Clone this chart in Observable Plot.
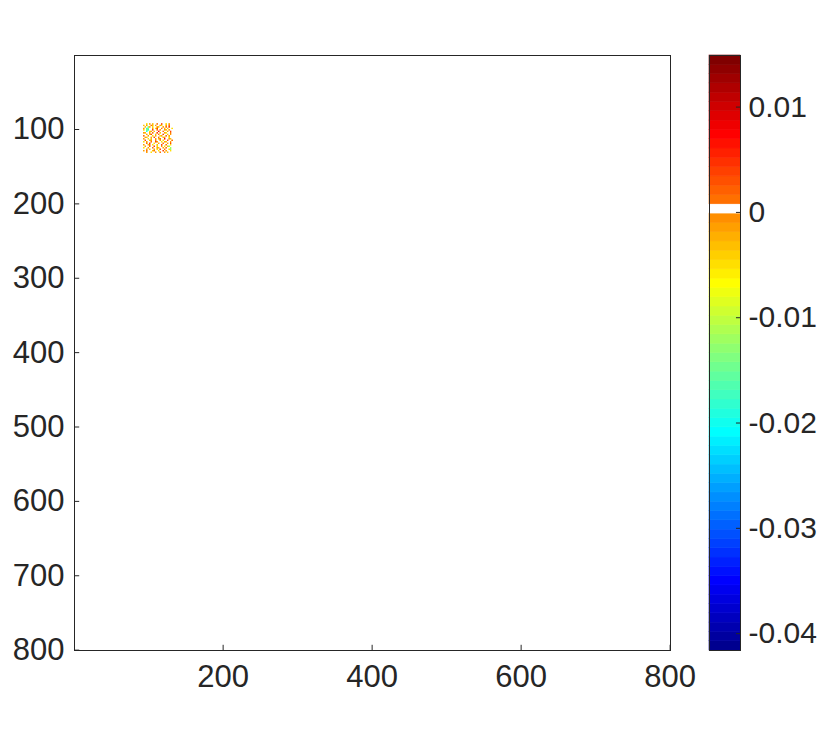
<!DOCTYPE html>
<html><head><meta charset="utf-8">
<script src="https://cdn.jsdelivr.net/npm/d3@7"></script>
<script src="https://cdn.jsdelivr.net/npm/@observablehq/plot@0.6"></script>
<style>
body{margin:0;background:#fff;}
#wrap{display:flex;width:830px;height:731px;}
#wrap svg{font-family:"Liberation Sans",Arial,sans-serif;}
</style></head><body><div id="wrap"></div>
<script>
// ---- data ----
const nRows = 800, nCols = 800;
const patchRow0 = 92, patchCol0 = 93, blockSize = 2;
// estimated speckle pattern of the non-zero patch (each char = 2x2 cells)
const patchRows = [
  "..y.O.Y..o..R..y.O..",
  "Y.O..oY.O..Oy..O.o..",
  ".Y.gO.y..OY..O.o.R..",
  "O.cg..O.yR..o.O.Y..y",
  "y.gc..R..o.O..OY.O..",
  "..c.yO.Y..r..o..O.R.",
  "OY..O.o..R.Y..Oy..o.",
  "..O.yR..Y.o..R..Y.O.",
  "o..O..y.O..yO..o.O..",
  ".OY..O.R..o..YO..y..",
  "O..y.Y..O.Yo..r..OY.",
  ".R..YO..o..O.y..R..o",
  "y.O..o..RO..y.OY..O.",
  "..o.R..y..O..o..O.R.",
  "O..Yo.y..Y..R..o..y.",
  ".O..o..R.y..O.y.Yg..",
  "y..O..o..OY..O.o..g.",
  "..O.Y..O.y.R..o..yg.",
  "O.o...Yo..y..R.O..y.",
  "..O..y..O..o..O.Y..."
];
const codeValues = {".": 0, o: 0.0012, O: -0.0015, Y: -0.003, y: -0.005, R: 0.004, r: 0.007, g: -0.012, c: -0.019, b: -0.028};
const cLim = [-0.0416, 0.0149];
const nLevels = 64;
const xTicks = [200, 400, 600, 800];
const yTicks = [100, 200, 300, 400, 500, 600, 700, 800];
const cTicks = [-0.04, -0.03, -0.02, -0.01, 0, 0.01];

// ---- build matrix ----
const values = new Array(nRows * nCols).fill(0);
patchRows.forEach((row, bi) => {
  [...row].forEach((ch, bj) => {
    const v = codeValues[ch] ?? 0;
    for (let di = 0; di < blockSize; di++)
      for (let dj = 0; dj < blockSize; dj++) {
        const r = patchRow0 - 1 + bi * blockSize + di;
        const c = patchCol0 - 1 + bj * blockSize + dj;
        values[r * nCols + c] = v;
      }
  });
});

// ---- jet colormap (MATLAB), zero level shown white ----
function jet(m) {
  const n = Math.ceil(m / 4);
  const u = [];
  for (let i = 1; i <= n; i++) u.push(i / n);
  for (let i = 0; i < n - 1; i++) u.push(1);
  for (let i = n; i >= 1; i--) u.push(i / n);
  const off = Math.ceil(n / 2) - (m % 4 === 1 ? 1 : 0);
  const J = Array.from({length: m}, () => [0, 0, 0]);
  u.forEach((v, k) => {
    const g = off + k + 1, r = g + n, b = g - n;
    if (r >= 1 && r <= m) J[r - 1][0] = v;
    if (g >= 1 && g <= m) J[g - 1][1] = v;
    if (b >= 1 && b <= m) J[b - 1][2] = v;
  });
  return J.map(([r, g, b]) => d3.rgb(r * 255, g * 255, b * 255).formatHex());
}
const step = (cLim[1] - cLim[0]) / nLevels;
const colors = jet(nLevels);
colors[Math.floor((0 - cLim[0]) / step)] = "#ffffff";
const thresholds = d3.range(1, nLevels).map(k => cLim[0] + k * step);
const colorScale = {type: "threshold", domain: thresholds, range: colors};
const levels = d3.range(nLevels).map(k => ({lo: cLim[0] + k * step, hi: cLim[0] + (k + 1) * step, mid: cLim[0] + (k + 0.5) * step}));

const ink = "#262626";
const font = "\"Liberation Sans\", Arial, sans-serif";

const main = Plot.plot({
  width: 700, height: 731,
  marginLeft: 74, marginRight: 30, marginTop: 55, marginBottom: 81,
  style: {fontSize: "31px", fontFamily: font, color: ink, background: "transparent"},
  x: {domain: [0.5, 800.5], label: null},
  y: {domain: [0.5, 800.5], reverse: true, label: null},
  color: colorScale,
  marks: [
    Plot.raster(values, {width: nCols, height: nRows, x1: 0.5, y1: 0.5, x2: 800.5, y2: 800.5}),
    Plot.frame({stroke: ink, strokeWidth: 1}),
    Plot.ruleX(xTicks, {x: d => d, y1: () => 800.5, y2: () => 793.5, stroke: ink}),
    Plot.ruleY(yTicks, {y: d => d, x1: () => 0.5, x2: () => 7.5, stroke: ink}),
    Plot.axisX(xTicks, {tickSize: 0, tickPadding: 14, label: null, fill: ink}),
    Plot.axisY(yTicks, {tickSize: 0, tickPadding: 10, label: null, fill: ink})
  ]
});

const bar = Plot.plot({
  width: 130, height: 731,
  marginLeft: 9, marginRight: 90, marginTop: 55, marginBottom: 81,
  style: {fontSize: "30px", fontFamily: font, color: ink, background: "transparent"},
  x: {domain: [0, 1], axis: null},
  y: {domain: cLim, label: null, axis: null},
  color: colorScale,
  marks: [
    Plot.rect(levels, {x1: () => 0, x2: () => 1, y1: "lo", y2: "hi", fill: "mid", stroke: "mid", strokeWidth: 0.6}),
    Plot.frame({stroke: ink, strokeWidth: 1}),
    Plot.ruleY(cTicks, {y: d => d, x1: () => 0.87, x2: () => 1, stroke: ink}),
    Plot.axisY(cTicks, {anchor: "right", tickSize: 0, tickPadding: 8, label: null, fill: ink,
      tickFormat: d => d === 0 ? "0" : String(d)})
  ]
});

const wrap = document.getElementById("wrap");
wrap.appendChild(main);
wrap.appendChild(bar);
</script></body></html>
